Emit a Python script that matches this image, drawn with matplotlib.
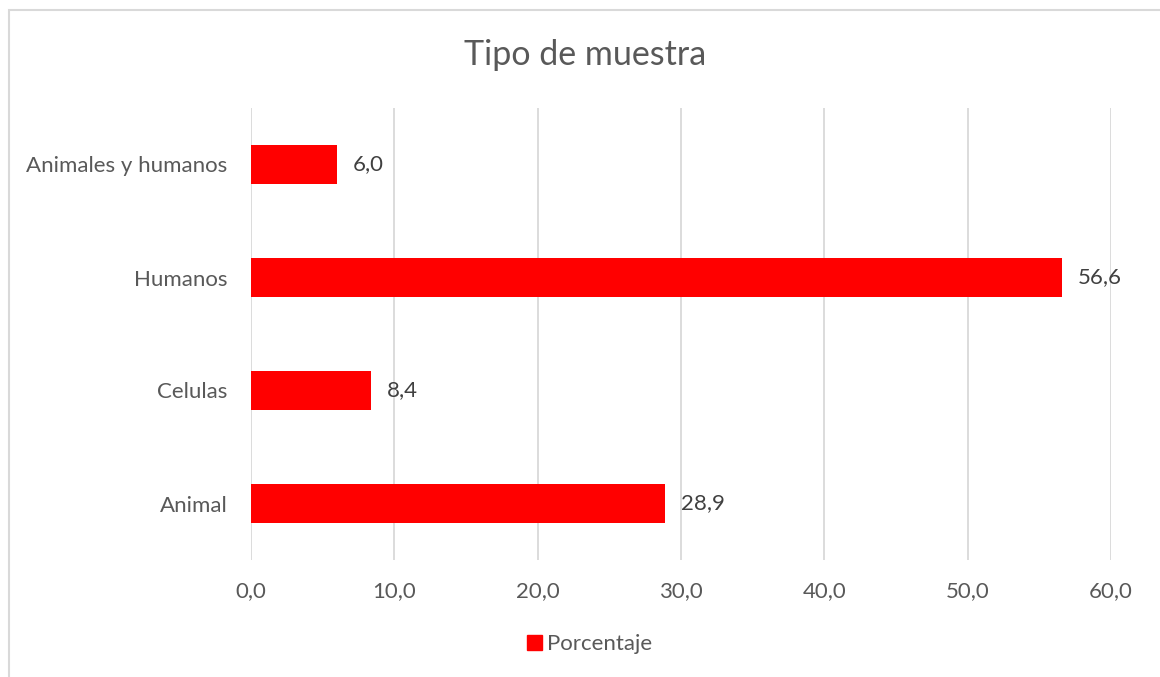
import matplotlib.pyplot as plt
from matplotlib.patches import Rectangle, Patch

categories = ["Animal", "Celulas", "Humanos", "Animales y humanos"]
porcentaje = [28.9, 8.4, 56.6, 6.0]
x_ticks = [0, 10, 20, 30, 40, 50, 60]

plt.rcParams["font.family"] = ["Lato", "DejaVu Sans"]
text_color = "#595959"

fig = plt.figure(figsize=(11.6, 6.77), dpi=100)
ax = fig.add_axes([251 / 1160, 1 - 560 / 677, 860 / 1160, 452 / 677])

# chart border (outer frame, partially cut off on the right and bottom)
fig.patches.append(Rectangle((9 / 1160, -0.05), 1.2, 1 - 10 / 677 + 0.05,
                             transform=fig.transFigure, fill=False,
                             edgecolor="#d9d9d9", linewidth=1.5, zorder=0))

y = range(len(categories))
bars = ax.barh(y, porcentaje, height=0.35, color="#ff0000", zorder=3)

for i, v in enumerate(porcentaje):
    ax.text(v + 1.1, i, f"{v:.1f}".replace(".", ","), va="center", ha="left",
            fontsize=16, color="#404040")

ax.set_xlim(0, 60)
ax.set_ylim(-0.5, 3.5)
ax.set_xticks(x_ticks)
ax.set_xticklabels([f"{t:.1f}".replace(".", ",") for t in x_ticks])
ax.set_yticks(list(y))
ax.set_yticklabels(categories)
ax.tick_params(axis="both", length=0, labelsize=16, labelcolor=text_color)
ax.tick_params(axis="x", pad=15)
ax.tick_params(axis="y", pad=17)
ax.grid(axis="x", color="#d9d9d9", linewidth=1.3, zorder=0)
for s in ax.spines.values():
    s.set_visible(False)

fig.text(585 / 1160, 1 - 55 / 677, "Tipo de muestra", ha="center", va="center",
         fontsize=24.5, color=text_color)

fig.legend(handles=[Patch(color="#ff0000", label="Porcentaje")],
           loc="center", bbox_to_anchor=(590 / 1160, 1 - 644 / 677),
           frameon=False, fontsize=16, handlelength=0.65, handleheight=0.65,
           handletextpad=0.25, labelcolor=text_color)

fig.savefig("out.png", dpi=100)
